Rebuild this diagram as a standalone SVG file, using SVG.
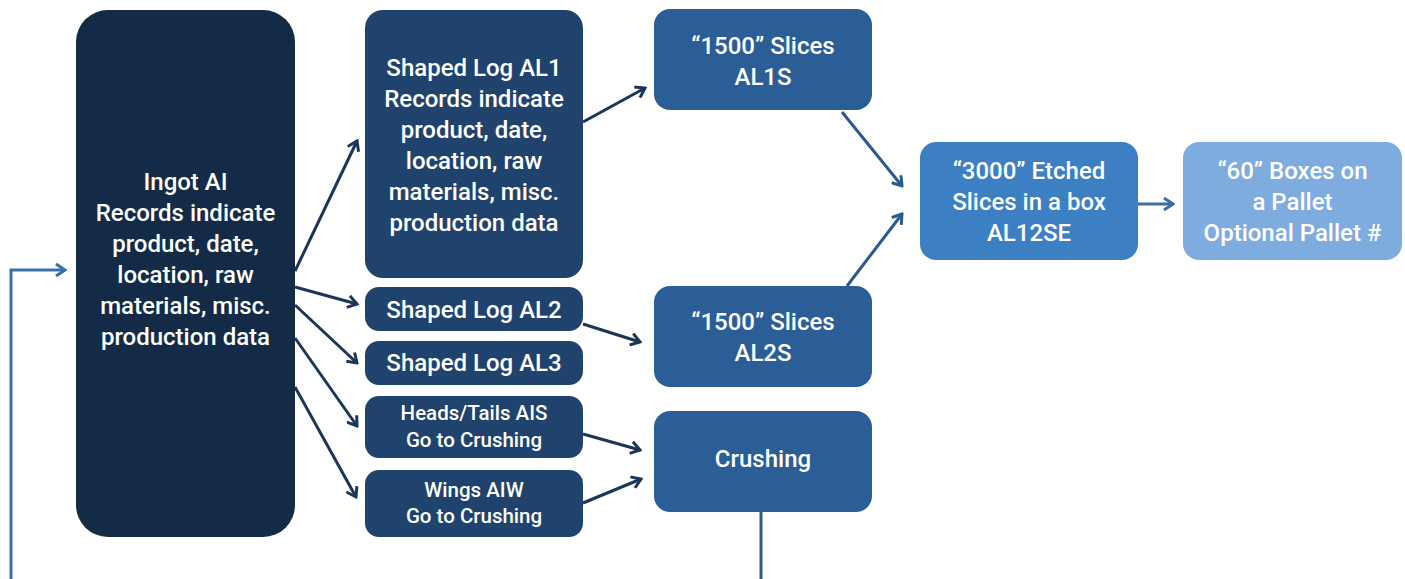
<svg xmlns="http://www.w3.org/2000/svg" width="1405" height="579" viewBox="0 0 1405 579">
<defs>
<style>
text{font-family:Roboto,"Liberation Sans",sans-serif;fill:#ffffff;text-anchor:middle;font-size:24px;font-weight:500}
.sm{font-size:20.5px}
.ingot{fill:#132b47}
.log{fill:#1f436d}
.slice{fill:#2b5e96}
.etch{fill:#3c80c3}
.pal{fill:#7eacdf}
.cd{fill:none;stroke:#1b3656;stroke-width:3}
.cm{fill:none;stroke:#2a5a8e;stroke-width:3}
.cl{fill:none;stroke:#3a6ea9;stroke-width:3}
</style>
<marker id="ad" markerWidth="12" markerHeight="14" refX="10" refY="7" orient="auto" markerUnits="userSpaceOnUse" viewBox="0 0 12 14"><path d="M1,1 L10,7 L1,13" fill="none" stroke="#1b3656" stroke-width="3"/></marker>
<marker id="am" markerWidth="12" markerHeight="14" refX="10" refY="7" orient="auto" markerUnits="userSpaceOnUse" viewBox="0 0 12 14"><path d="M1,1 L10,7 L1,13" fill="none" stroke="#2a5a8e" stroke-width="3"/></marker>
<marker id="al" markerWidth="12" markerHeight="14" refX="10" refY="7" orient="auto" markerUnits="userSpaceOnUse" viewBox="0 0 12 14"><path d="M1,1 L10,7 L1,13" fill="none" stroke="#3a6ea9" stroke-width="3"/></marker>
</defs>
<rect width="1405" height="579" fill="#ffffff"/>
<g id="connectors">
<polyline class="cl" points="11,579 11,270 65,270" marker-end="url(#al)"/>
<line class="cd" x1="295" y1="271" x2="357" y2="141" marker-end="url(#ad)"/>
<line class="cd" x1="295" y1="287" x2="357" y2="304" marker-end="url(#ad)"/>
<line class="cd" x1="295" y1="305" x2="357" y2="363" marker-end="url(#ad)"/>
<line class="cd" x1="295" y1="338" x2="357" y2="426" marker-end="url(#ad)"/>
<line class="cd" x1="295" y1="387" x2="356" y2="497" marker-end="url(#ad)"/>
<line class="cd" x1="583" y1="122" x2="645" y2="88" marker-end="url(#ad)"/>
<line class="cd" x1="583" y1="324" x2="640" y2="342" marker-end="url(#ad)"/>
<line class="cd" x1="583" y1="434" x2="640" y2="450" marker-end="url(#ad)"/>
<line class="cd" x1="583" y1="503" x2="641" y2="479" marker-end="url(#ad)"/>
<line class="cm" x1="842" y1="112" x2="902" y2="186" marker-end="url(#am)"/>
<line class="cm" x1="847" y1="286" x2="902" y2="214" marker-end="url(#am)"/>
<line class="cm" x1="761" y1="512" x2="761" y2="579"/>
<line class="cl" x1="1138" y1="204" x2="1173" y2="204" marker-end="url(#al)"/>
</g>
<g id="ingot">
<rect class="ingot" x="76" y="10" width="219" height="527" rx="32"/>
<text x="185.5" y="190">Ingot AI</text>
<text x="185.5" y="221">Records indicate</text>
<text x="185.5" y="252">product, date,</text>
<text x="185.5" y="283">location, raw</text>
<text x="185.5" y="314">materials, misc.</text>
<text x="185.5" y="345">production data</text>
</g>
<g id="al1">
<rect class="log" x="365" y="10" width="218" height="268" rx="18"/>
<text x="474" y="76">Shaped Log AL1</text>
<text x="474" y="107">Records indicate</text>
<text x="474" y="138">product, date,</text>
<text x="474" y="169">location, raw</text>
<text x="474" y="200">materials, misc.</text>
<text x="474" y="231">production data</text>
</g>
<g id="al2">
<rect class="log" x="365" y="287" width="218" height="44" rx="14"/>
<text x="474" y="318">Shaped Log AL2</text>
</g>
<g id="al3">
<rect class="log" x="365" y="341" width="218" height="44" rx="14"/>
<text x="474" y="371">Shaped Log AL3</text>
</g>
<g id="heads">
<rect class="log" x="365" y="396" width="218" height="62" rx="14"/>
<text class="sm" x="474" y="420">Heads/Tails AIS</text>
<text class="sm" x="474" y="447">Go to Crushing</text>
</g>
<g id="wings">
<rect class="log" x="365" y="470" width="218" height="67" rx="14"/>
<text class="sm" x="474" y="497">Wings AIW</text>
<text class="sm" x="474" y="523">Go to Crushing</text>
</g>
<g id="al1s">
<rect class="slice" x="654" y="9" width="218" height="101" rx="16"/>
<text x="763" y="54">“1500” Slices</text>
<text x="763" y="85">AL1S</text>
</g>
<g id="al2s">
<rect class="slice" x="654" y="286" width="218" height="101" rx="16"/>
<text x="763" y="330">“1500” Slices</text>
<text x="763" y="361">AL2S</text>
</g>
<g id="crushing">
<rect class="slice" x="654" y="411" width="218" height="101" rx="16"/>
<text x="763" y="467">Crushing</text>
</g>
<g id="al12se">
<rect class="etch" x="920" y="142" width="218" height="118" rx="16"/>
<text x="1029" y="179">“3000” Etched</text>
<text x="1029" y="210">Slices in a box</text>
<text x="1029" y="241">AL12SE</text>
</g>
<g id="pallet">
<rect class="pal" x="1183" y="142" width="219" height="118" rx="16"/>
<text x="1292.5" y="179">“60” Boxes on</text>
<text x="1292.5" y="210">a Pallet</text>
<text x="1292.5" y="241">Optional Pallet #</text>
</g>
</svg>
